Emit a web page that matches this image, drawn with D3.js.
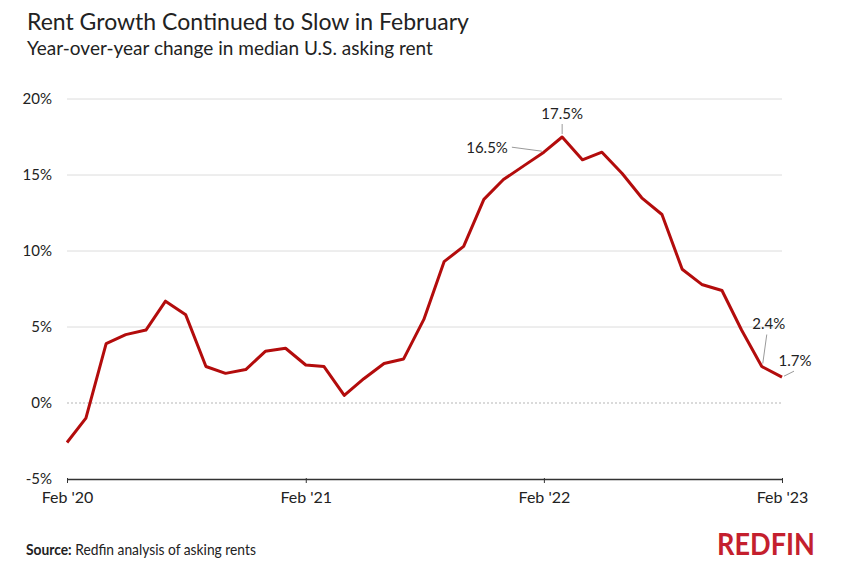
<!DOCTYPE html>
<html lang="en">
  <head>
    <meta charset="UTF-8" />
    <title>Rent Growth Continued to Slow in February</title>
    <script src="https://d3js.org/d3.v7.min.js"></script>
    <style>
      body {
        margin: 0;
        background: #ffffff;
      }
      text {
        font-family: Lato, "Open Sans", sans-serif;
        fill: #222;
      }
      .title {
        font-size: 23px;
      }
      .subtitle {
        font-size: 19px;
      }
      .ylab {
        font-size: 15px;
      }
      .note {
        font-size: 15px;
      }
    </style>
  </head>
  <body>
    <svg id="chart" width="856" height="581"></svg>
  </body>
  <script>
    // monthly data, Feb 2020 .. Feb 2023
    const months = d3.timeMonths(new Date(2020, 1, 1), new Date(2023, 1, 2));
    const rentGrowth = [
      -2.6, -1.0, 3.9, 4.5, 4.8, 6.7, 5.8, 2.4, 1.95, 2.2, 3.4, 3.6,
      2.5, 2.4, 0.5, 1.6, 2.6, 2.9, 5.5, 9.3, 10.3, 13.4, 14.7, 15.6,
      16.5, 17.5, 16.0, 16.5, 15.1, 13.5, 12.4, 8.8, 7.8, 7.4, 4.8, 2.4,
      1.7,
    ];
    const yTicks = [-5, 0, 5, 10, 15, 20];
    const xTicks = [2020, 2021, 2022, 2023].map((y) => new Date(y, 1, 1));
    // labelled points: index, label text
    const callouts = [
      { i: 24, text: "16.5%" },
      { i: 25, text: "17.5%" },
      { i: 35, text: "2.4%" },
      { i: 36, text: "1.7%" },
    ];

    const data = months.map((m, i) => ({ date: m, value: rentGrowth[i] }));

    const svg = d3.select("#chart");

    const x = d3
      .scaleTime()
      .domain([months[0], months[months.length - 1]])
      .range([67, 782]);
    const y = d3.scaleLinear().domain([-5, 20]).range([479, 99]);

    // titles
    svg
      .append("text")
      .attr("class", "title")
      .attr("x", 27)
      .attr("y", 30)
      .text("Rent Growth Continued to Slow in February");
    svg
      .append("text")
      .attr("class", "subtitle")
      .attr("x", 27)
      .attr("y", 55)
      .text("Year-over-year change in median U.S. asking rent");

    // gridlines
    const grid = svg.append("g");
    grid
      .selectAll("line")
      .data(yTicks.filter((d) => d > 0))
      .enter()
      .append("line")
      .attr("x1", x.range()[0])
      .attr("x2", x.range()[1])
      .attr("y1", (d) => y(d))
      .attr("y2", (d) => y(d))
      .attr("stroke", "#dcdcdc")
      .attr("stroke-width", 1);
    grid
      .append("line")
      .attr("x1", x.range()[0])
      .attr("x2", x.range()[1])
      .attr("y1", y(0))
      .attr("y2", y(0))
      .attr("stroke", "#b5b5b5")
      .attr("stroke-width", 1)
      .attr("stroke-dasharray", "2,2");

    // y labels
    svg
      .append("g")
      .selectAll("text")
      .data(yTicks)
      .enter()
      .append("text")
      .attr("class", "ylab")
      .attr("x", 52)
      .attr("y", (d) => y(d))
      .attr("dy", "0.35em")
      .attr("text-anchor", "end")
      .text((d) => d + "%");

    // x axis
    const xAxis = svg
      .append("g")
      .attr("transform", `translate(0,${y(-5)})`)
      .call(
        d3
          .axisBottom(x)
          .tickValues(xTicks)
          .tickSize(5)
          .tickSizeOuter(0)
          .tickFormat((d) => "Feb '" + d3.timeFormat("%y")(d))
      );
    xAxis.select(".domain").attr("stroke", "#333").attr("stroke-width", 1.3);
    xAxis.selectAll(".tick line").attr("stroke", "#333").attr("y1", -1).attr("y2", 4);
    xAxis
      .selectAll(".tick text")
      .attr("y", 13)
      .attr("dy", "0.71em")
      .style("font-family", "Lato, sans-serif")
      .style("font-size", "16px")
      .style("fill", "#222");

    // line
    const line = d3
      .line()
      .x((d) => x(d.date))
      .y((d) => y(d.value));
    svg
      .append("path")
      .datum(data)
      .attr("fill", "none")
      .attr("stroke", "#b30c0c")
      .attr("stroke-width", 3)
      .attr("stroke-linejoin", "round")
      .attr("d", line);

    // callouts
    const pos = (i) => [x(data[i].date), y(data[i].value)];
    const lead = svg.append("g").attr("stroke", "#9a9a9a").attr("stroke-width", 1);
    const lab = svg.append("g");

    // 16.5% : label left
    let p = pos(callouts[0].i);
    lead.append("line").attr("x1", p[0] - 2).attr("y1", p[1] - 1).attr("x2", p[0] - 32).attr("y2", p[1] - 5);
    lab.append("text").attr("class", "note").attr("x", p[0] - 36).attr("y", p[1] - 4)
      .attr("dy", "0.35em").attr("text-anchor", "end").text(callouts[0].text);

    // 17.5% : label above
    p = pos(callouts[1].i);
    lead.append("line").attr("x1", p[0]).attr("y1", p[1] - 3).attr("x2", p[0]).attr("y2", p[1] - 13);
    lab.append("text").attr("class", "note").attr("x", p[0]).attr("y", p[1] - 23)
      .attr("dy", "0.35em").attr("text-anchor", "middle").text(callouts[1].text);

    // 2.4% : label above
    p = pos(callouts[2].i);
    lead.append("line").attr("x1", p[0] + 1).attr("y1", p[1] - 3).attr("x2", p[0] + 5).attr("y2", p[1] - 32);
    lab.append("text").attr("class", "note").attr("x", p[0] + 7).attr("y", p[1] - 43)
      .attr("dy", "0.35em").attr("text-anchor", "middle").text(callouts[2].text);

    // 1.7% : label up-right
    p = pos(callouts[3].i);
    lead.append("line").attr("x1", p[0] + 2).attr("y1", p[1] - 1).attr("x2", p[0] + 12).attr("y2", p[1] - 6);
    lab.append("text").attr("class", "note").attr("x", p[0] + 13).attr("y", p[1] - 16)
      .attr("dy", "0.35em").attr("text-anchor", "middle").text(callouts[3].text);

    // footer
    const src = svg
      .append("text")
      .attr("x", 26)
      .attr("y", 555)
      .style("font-size", "15px");
    src.append("tspan").style("font-weight", "bold").text("Source:");
    src.append("tspan").text(" Redfin analysis of asking rents");
    // squeeze to the reference width
    const w = src.node().getComputedTextLength();
    src.attr("transform", `translate(26,0) scale(${230 / w},1) translate(-26,0)`);

    svg
      .append("text")
      .attr("x", 717)
      .attr("y", 555)
      .style("font-size", "31px")
      .style("font-weight", "bold")
      .style("fill", "#c41f2e")
      .attr("textLength", 98)
      .attr("lengthAdjust", "spacingAndGlyphs")
      .text("REDFIN");
  </script>
</html>
